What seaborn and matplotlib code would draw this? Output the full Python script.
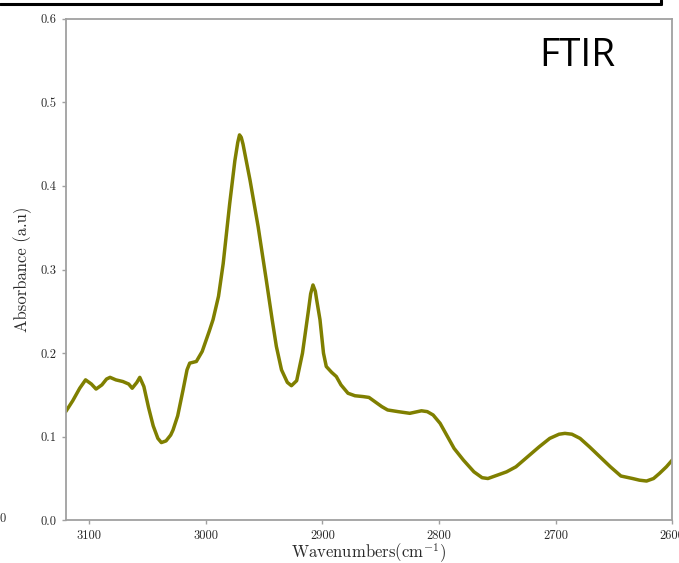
import numpy as np
import pandas as pd
import matplotlib
matplotlib.use("Agg")
import matplotlib.pyplot as plt
from matplotlib.lines import Line2D
import seaborn as sns

# FTIR spectrum in the C-H stretching region
wavenumber = [3120, 3114, 3108, 3103, 3098, 3094, 3089, 3085, 3082, 3077,
              3071, 3066, 3063, 3059, 3056.5, 3053, 3049, 3045, 3041, 3038,
              3034, 3030, 3028, 3024, 3019.4, 3016, 3013.7, 3008, 3003, 2997,
              2993.7, 2989, 2985, 2979.4, 2975, 2972.5, 2971, 2969.5, 2968, 2962,
              2955, 2948, 2943, 2939.4, 2935, 2930, 2926.5, 2922, 2917, 2912,
              2910, 2908, 2906, 2905, 2902, 2899, 2896.6, 2892, 2888, 2884,
              2878, 2872, 2865, 2860, 2855, 2849, 2844, 2835, 2825, 2815,
              2810, 2805, 2799, 2793, 2787, 2779, 2770, 2763, 2758, 2750,
              2742, 2734, 2724, 2714, 2705, 2697, 2692, 2686, 2679, 2671,
              2662, 2653, 2644, 2634, 2628, 2622, 2616, 2611, 2605, 2600]
absorbance = [0.130, 0.143, 0.158, 0.168, 0.163, 0.157, 0.162, 0.169, 0.171, 0.168,
              0.166, 0.163, 0.158, 0.165, 0.171, 0.160, 0.135, 0.113, 0.098, 0.093,
              0.095, 0.102, 0.108, 0.125, 0.156, 0.180, 0.188, 0.190, 0.202, 0.226,
              0.240, 0.268, 0.307, 0.379, 0.430, 0.452, 0.461, 0.458, 0.450, 0.407,
              0.351, 0.287, 0.240, 0.208, 0.180, 0.165, 0.161, 0.167, 0.200, 0.250,
              0.271, 0.2815, 0.274, 0.265, 0.240, 0.200, 0.184, 0.177, 0.172, 0.162,
              0.152, 0.149, 0.148, 0.147, 0.142, 0.136, 0.132, 0.130, 0.128, 0.131,
              0.130, 0.126, 0.116, 0.101, 0.086, 0.072, 0.058, 0.051, 0.050, 0.054,
              0.058, 0.064, 0.076, 0.088, 0.098, 0.103, 0.104, 0.103, 0.098, 0.088,
              0.076, 0.064, 0.053, 0.050, 0.048, 0.047, 0.050, 0.056, 0.064, 0.072]

x_ticks = [3100, 3000, 2900, 2800, 2700, 2600]
y_ticks = [0.0, 0.1, 0.2, 0.3, 0.4, 0.5, 0.6]

sns.set_theme(style="white")
plt.rcParams["font.family"] = ["cmr10"]
plt.rcParams["mathtext.fontset"] = "cm"
plt.rcParams["axes.formatter.use_mathtext"] = True

df = pd.DataFrame({"wavenumber": wavenumber, "absorbance": absorbance})

fig = plt.figure(figsize=(6.79, 5.63), dpi=100)
ax = fig.add_axes([0.0968, 0.0758, 0.8932, 0.891])

sns.lineplot(data=df, x="wavenumber", y="absorbance", ax=ax, sort=False,
             color="#7f7f00", linewidth=2.5)

ax.set_xlim(3120, 2600)
ax.set_ylim(0.0, 0.6)
ax.set_xticks(x_ticks)
ax.set_xticklabels([str(t) for t in x_ticks])
ax.set_yticks(y_ticks)
ax.set_yticklabels([f"{t:.1f}" for t in y_ticks])

for s in ax.spines.values():
    s.set_color("#a0a0a0")
    s.set_linewidth(1.3)
ax.tick_params(axis="both", which="major", length=3, width=1, color="#a0a0a0",
               labelsize=9, pad=4, labelcolor="#2a2a2a", direction="out",
               bottom=True, left=True)

ax.set_xlabel(r"$\mathrm{Wavenumbers(cm^{-1})}$", fontsize=12, color="#2a2a2a", labelpad=-0.5)
ax.set_ylabel("Absorbance (a.u)", fontsize=12, color="#2a2a2a", labelpad=6)

ax.text(0.844, 0.925, "FTIR", transform=ax.transAxes, ha="center", va="center",
        fontsize=28, family="Open Sans", color="black")

# frame of the panel above
W, H = 679, 563
fig.add_artist(Line2D([0, 661 / W], [1 - 4 / H, 1 - 4 / H], color="black", lw=2.2,
                      transform=fig.transFigure))
fig.add_artist(Line2D([661 / W, 661 / W], [1 - 4 / H, 1.0], color="black", lw=2.2,
                      transform=fig.transFigure))
# tick label of the neighbouring panel
fig.text(0 / W, 1 - 519 / H, "0", fontsize=9, color="#2a2a2a", ha="left", va="center")

fig.savefig("out.png", dpi=100)
